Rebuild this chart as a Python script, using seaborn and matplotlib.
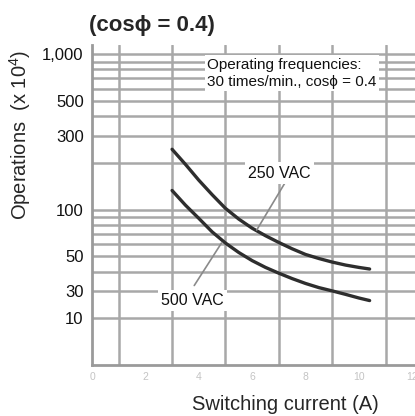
import matplotlib
matplotlib.use("Agg")
import matplotlib.pyplot as plt
import seaborn as sns
import pandas as pd

# values
current_250 = [3.0, 3.5, 4.0, 4.5, 5.0, 5.5, 6.0, 6.5, 7.0, 7.5, 8.0, 8.5, 9.0, 9.5, 10.0, 10.4]
ops_250 = [245, 196, 155, 125, 102, 87, 76, 68, 61.5, 56, 51.5, 48.5, 46, 44, 42.5, 41.5]
current_500 = [3.0, 3.5, 4.0, 4.5, 5.0, 5.5, 6.0, 6.5, 7.0, 7.5, 8.0, 8.5, 9.0, 9.5, 10.0, 10.4]
ops_500 = [133, 107, 88, 72, 61, 53, 47, 42.5, 39, 36, 33.5, 31.5, 30, 28.5, 27, 26]

x_ticks = [0, 2, 4, 6, 8, 10, 12]
y_ticks = [20, 30, 50, 100, 300, 500, 1000]
y_tick_labels = ["10", "30", "50", "100", "300", "500", "1,000"]

df = pd.concat([
    pd.DataFrame({"current": current_250, "ops": ops_250, "voltage": "250 VAC"}),
    pd.DataFrame({"current": current_500, "ops": ops_500, "voltage": "500 VAC"}),
])

sns.set_theme(style="white")
plt.rcParams["font.family"] = ["Liberation Sans", "DejaVu Sans"]
plt.rcParams["mathtext.fontset"] = "custom"
plt.rcParams["mathtext.rm"] = "Liberation Sans"

fig = plt.figure(figsize=(4.15, 4.16), dpi=100)
ax = fig.add_axes([92 / 415, 51 / 416, 323 / 415, 320 / 416])

ax.set_yscale("log")
ax.set_xlim(0, 12.1)
ax.set_ylim(10, 1150)

# grid
ax.set_xticks(range(0, 13), minor=True)
ax.grid(which="both", axis="y", color="#a8a8a8", linewidth=1.8)
ax.grid(which="minor", axis="x", color="#a8a8a8", linewidth=1.8)
ax.set_axisbelow(True)

sns.lineplot(data=df, x="current", y="ops", units="voltage", estimator=None,
             color="#2e2e2e", linewidth=2.4, ax=ax, legend=False)

ax.set_xticks(x_ticks)
ax.set_xticklabels([str(v) for v in x_ticks], color="#c4c4c4", fontsize=7.5)
ax.set_yticks(y_ticks)
ax.set_yticklabels(y_tick_labels, fontsize=12, color="#111111")
ax.yaxis.set_minor_formatter(matplotlib.ticker.NullFormatter())
ax.tick_params(axis="both", which="both", length=0)
ax.tick_params(axis="y", pad=6)
ax.tick_params(axis="x", pad=5)
ax.set_xlabel("")
ax.set_ylabel("")

for side in ["top", "right"]:
    ax.spines[side].set_visible(False)
for side in ["left", "bottom"]:
    ax.spines[side].set_color("#9a9a9a")
    ax.spines[side].set_linewidth(2)

box = dict(boxstyle="square,pad=0.2", facecolor="white", edgecolor="none")

ax.text(0.356, 0.912, "Operating frequencies:\n30 times/min., cos\u03d5 = 0.4",
        transform=ax.transAxes, fontsize=11, va="center", ha="left",
        linespacing=1.3, color="#111111",
        bbox=dict(boxstyle="square,pad=0.15", facecolor="white", edgecolor="none"))

ax.plot([7.22, 6.17], [148, 74], color="#8a8a8a", linewidth=1.2)
ax.text(7.03, 172, "250 VAC", fontsize=11.5, ha="center", va="center",
        color="#111111", bbox=box)

ax.plot([3.83, 4.85], [32.5, 61], color="#8a8a8a", linewidth=1.2)
ax.text(3.76, 26, "500 VAC", fontsize=11.5, ha="center", va="center",
        color="#111111", bbox=box)

fig.text(152 / 415, 1 - 25 / 416, "(cos\u03d5 = 0.4)", fontsize=16,
         fontweight="bold", ha="center", va="center")
fig.text(20 / 415, 1 - 135 / 416, "Operations  (x 10$\\mathregular{^4}$)",
         rotation=90, fontsize=14.5, ha="center", va="center")
fig.text(285 / 415, 1 - 404 / 416, "Switching current (A)", fontsize=14.5,
         ha="center", va="center")

fig.savefig("out.png", dpi=100)
